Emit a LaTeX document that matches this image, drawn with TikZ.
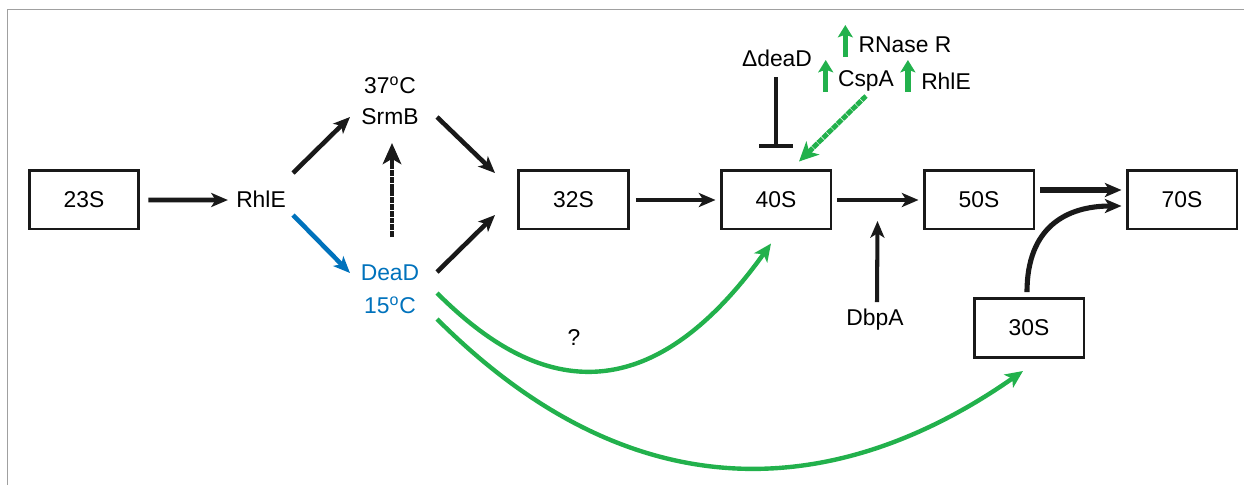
\documentclass[tikz,border=0pt]{standalone}
\usepackage{fontspec}
\setmainfont{Liberation Sans}
\usetikzlibrary{arrows.meta,calc}
\definecolor{grn}{RGB}{34,177,76}
\definecolor{blu}{RGB}{0,114,188}
\definecolor{frm}{RGB}{160,160,160}
\begin{document}
\begin{tikzpicture}[x=0.02cm,y=-0.02cm,
  box/.style={draw=black!90,line width=1.7pt,minimum width=2.2cm,minimum height=1.18cm,inner sep=0pt,font=\fontsize{13}{15}\selectfont},
  lbl/.style={inner sep=0pt,font=\fontsize{13}{15}\selectfont},
  arr/.style={draw=black!90,line width=2.6pt,-{Stealth[length=9.5pt,width=8pt,inset=2.5pt]}},
  garr/.style={draw=grn,line width=2.5pt,-{Stealth[length=10pt,width=9pt,inset=2.5pt]}},
  uarr/.style={draw=grn,line width=3pt,-{Stealth[length=7pt,width=8.5pt,inset=1.5pt]}},
  segm/.style={dash pattern=on 3.4pt off 0.45pt},
]
\useasboundingbox (0,0) rectangle (1244,485);
\draw[frm,line width=0.7pt] (7.5,485) -- (7.5,9.5) -- (1244,9.5);

% boxes
\node[box] (b23) at (84,199.5) {23S};
\node[box] (b32) at (573.5,199.5) {32S};
\node[box] (b40) at (776,199.5) {40S};
\node[box] (b50) at (979,199.5) {50S};
\node[box] (b70) at (1182,199.5) {70S};
\node[box] (b30) at (1029,328) {30S};

% labels
\node[lbl] (rhle) at (261,199) {RhlE};
\node[lbl] (t37) at (390,85) {37\textsuperscript{o}C};
\node[lbl] (srmb) at (390,117) {SrmB};
\node[lbl,text=blu] (dead) at (390,273) {DeaD};
\node[lbl,text=blu] (t15) at (390,305) {15\textsuperscript{o}C};
\node[lbl] (dbpa) at (875,320) {DbpA};
\node[lbl] (ddead) at (777,58) {ΔdeaD};
\node[lbl] (rnase) at (905,45) {RNase R};
\node[lbl] (cspa) at (866,81) {CspA};
\node[lbl] (rhle2) at (946,81) {RhlE};
\node[lbl] (q) at (574,338) {?};

% black arrows
\draw[arr] ($(b23.east)+(8,0.5)$) -- ($(rhle.west)+(-8,1)$);
\draw[arr] ($(rhle)+(32,-26)$) -- ($(srmb)+(-40,0)$);
\draw[arr,draw=blu] ($(rhle)+(32,16)$) -- ($(dead)+(-40,0)$);
\draw[arr] ($(srmb)+(47,0)$) -- ($(b32.west)+(-22,-26.5)$);
\draw[arr] ($(dead)+(47,-1)$) -- ($(b32.west)+(-22,15.5)$);
\draw[line width=2.8pt,draw=black!90,segm,-{Stealth[length=12pt,width=10.5pt,inset=3pt]}] ($(dead)+(2,-36)$) -- ($(srmb)+(2,26)$);
\draw[arr] ($(b32.east)+(6,0.5)$) -- ($(b40.west)+(-4,0.5)$);
\draw[arr] ($(b40.east)+(5,0.5)$) -- ($(b50.west)+(-4,0.5)$);
\draw[arr,line width=2.9pt] ($(b50.east)+(5,-9.5)$) -- ($(b70.west)+(-4,-9.5)$);
\draw[arr,line width=2.9pt] ($(b30.north)+(-2,-5)$) .. controls +(0,-65) and +(-55,0) .. ($(b70.west)+(-4,6.5)$);
\coordinate (dbpatip) at ($(b40.east)!0.5!(b50.west)+(0,21.5)$);
\draw[arr,line width=2.3pt] ($(dbpa)+(2,-18)$) -- (dbpatip);
\coordinate (tbar) at ($(ddead)+(-1,90)$);
\draw[draw=black!90,line width=2.4pt,-{Bar[width=19pt]}] ($(ddead)+(-1,19)$) -- (tbar);

% green
\draw[uarr] ($(rnase.west)+(-13,12)$) -- ($(rnase.west)+(-13,-20)$);
\draw[uarr] ($(cspa.west)+(-12,11)$) -- ($(cspa.west)+(-12,-21)$);
\draw[uarr] ($(rhle2.west)+(-13,11)$) -- ($(rhle2.west)+(-13,-21)$);
\draw[garr,segm,line width=2.8pt,-{Stealth[length=11pt,width=10.5pt,inset=3pt]}] ($(cspa)+(0,15)$) -- ($(b40.north)+(23,-7)$);
\draw[garr] ($(dead)+(47,20)$) .. controls +(75,75) and +(-141,197) .. ($(b40.south)+(-5,13)$);
\draw[garr] ($(dead)+(47,46)$) .. controls +(223,223) and +(-150,105) .. ($(b30.south)+(-6,12)$);
\end{tikzpicture}
\end{document}
